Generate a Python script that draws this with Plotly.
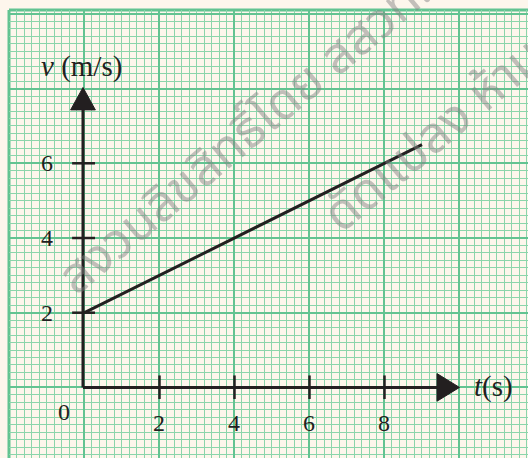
import plotly.graph_objects as go

# ---- data ----
t_values = [0, 9]            # time (s)
v_values = [2, 6.5]          # velocity (m/s)
x_ticks = [2, 4, 6, 8]
y_ticks = [2, 4, 6]
x_tick_labels = ["2", "4", "6", "8"]
y_tick_labels = ["2", "4", "6"]
x_title = "<i>t</i>(s)"
y_title = "<i>v</i> (m/s)"
watermark_1 = "สงวนลิขสิทธิ์โดย สสวท."
watermark_2 = "ดัดแปลง ห้ามเผยแพร่"

# ---- style ----
W, H = 528, 458
BG = "#fdf6ec"
MAJOR = "#62c391"
MINOR = "#8bd5ab"
INK = "#231f20"
SERIF = "Liberation Serif, Times New Roman, serif"
WM_FONT = "Noto Sans Thai, Noto Sans, sans-serif"
WM_COLOR = "rgba(130,130,130,0.48)"

x_range = [-2.013, 11.827]
y_range = [-1.890, 10.104]

fig = go.Figure()

fig.add_trace(go.Scatter(
    x=t_values, y=v_values, mode="lines",
    line=dict(color=INK, width=3), hoverinfo="skip", showlegend=False,
))

shapes = []
shapes.append(dict(type="line", xref="paper", yref="paper", x0=0, x1=1, y0=1, y1=1,
                   line=dict(color=MAJOR, width=3), layer="below"))
shapes.append(dict(type="line", xref="paper", yref="paper", x0=0, x1=0, y0=0, y1=1,
                   line=dict(color=MAJOR, width=3), layer="below"))

x_tip, x_len, x_half = 10.0, 0.6, 0.37
y_tip, y_len, y_half = 8.03, 0.6, 0.33
shapes.append(dict(type="line", x0=-0.04, x1=x_tip - x_len + 0.05, y0=0, y1=0,
                   line=dict(color=INK, width=3)))
shapes.append(dict(type="line", x0=-0.04, x1=-0.04, y0=0, y1=y_tip - y_len + 0.05,
                   line=dict(color=INK, width=3)))
shapes.append(dict(type="path",
                   path=f"M {x_tip} 0 L {x_tip - x_len} {x_half} L {x_tip - x_len} {-x_half} Z",
                   fillcolor=INK, line=dict(color=INK, width=1)))
shapes.append(dict(type="path",
                   path=f"M -0.04 {y_tip} L {-0.04 - y_half} {y_tip - y_len} L {-0.04 + y_half} {y_tip - y_len} Z",
                   fillcolor=INK, line=dict(color=INK, width=1)))
for xt in x_ticks:
    shapes.append(dict(type="line", x0=xt, x1=xt, y0=-0.31, y1=0.32,
                       line=dict(color=INK, width=2.5)))
for yt in y_ticks:
    shapes.append(dict(type="line", x0=-0.33, x1=0.28, y0=yt, y1=yt,
                       line=dict(color=INK, width=2.5)))

annotations = []
# watermark (drawn first, under the text labels)
annotations.append(dict(x=4.3, y=6.75, text=watermark_1, showarrow=False, textangle=-40,
                        font=dict(family=WM_FONT, size=50, color=WM_COLOR)))
annotations.append(dict(x=11.0, y=8.13, text=watermark_2, showarrow=False, textangle=-40,
                        font=dict(family=WM_FONT, size=50, color=WM_COLOR)))
for xt, lab in zip(x_ticks, x_tick_labels):
    annotations.append(dict(x=xt, y=-0.95, text=lab, showarrow=False,
                            font=dict(family=SERIF, size=24, color=INK)))
for yt, lab in zip(y_ticks, y_tick_labels):
    annotations.append(dict(x=-0.99, y=yt, text=lab, showarrow=False,
                            font=dict(family=SERIF, size=24, color=INK)))
annotations.append(dict(x=-0.55, y=-0.66, text="0", showarrow=False,
                        font=dict(family=SERIF, size=24, color=INK)))
annotations.append(dict(x=-0.07, y=8.58, text=y_title, showarrow=False,
                        font=dict(family=SERIF, size=29, color=INK)))
annotations.append(dict(x=10.92, y=0.02, text=x_title, showarrow=False,
                        font=dict(family=SERIF, size=29, color=INK)))

fig.update_layout(
    width=W, height=H, autosize=False,
    margin=dict(l=9, r=0, t=10, b=0),
    paper_bgcolor=BG, plot_bgcolor=BG,
    showlegend=False,
    shapes=shapes, annotations=annotations,
    xaxis=dict(range=x_range, showgrid=True, dtick=2, tick0=0, gridcolor=MAJOR, gridwidth=2.2,
               minor=dict(dtick=0.2, tick0=0, showgrid=True, gridcolor=MINOR, gridwidth=1.1),
               showticklabels=False, zeroline=False, showline=False, ticks="", fixedrange=True),
    yaxis=dict(range=y_range, showgrid=True, dtick=2, tick0=0, gridcolor=MAJOR, gridwidth=2.2,
               minor=dict(dtick=0.2, tick0=0, showgrid=True, gridcolor=MINOR, gridwidth=1.1),
               showticklabels=False, zeroline=False, showline=False, ticks="", fixedrange=True),
)

fig.write_html("out.html", config={"displayModeBar": False},
               post_script="document.body.style.margin='0px';document.body.style.background='" + BG + "';")
